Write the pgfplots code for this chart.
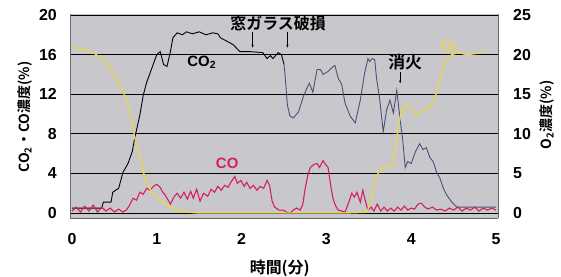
\documentclass[border=0pt]{standalone}
\usepackage{pgfplots}
\pgfplotsset{compat=1.18}
\usetikzlibrary{arrows.meta}
\usepackage{fontspec}
\setmainfont{Liberation Sans}
\newfontfamily\jp{Noto Sans CJK JP Bold}
\definecolor{bggray}{RGB}{200,200,204}
\definecolor{co2blue}{RGB}{78,78,120}
\definecolor{o2yellow}{RGB}{232,214,80}
\definecolor{cored}{RGB}{214,30,92}
\begin{document}
\begin{tikzpicture}
\begin{axis}[
  at={(0,0)}, anchor=south west,
  scale only axis, width=428bp, height=204bp,
  xmin=-0.024, xmax=5.024, ymin=-0.5, ymax=20.1,
  xtick={0,1,2,3,4,5}, ytick={0,4,8,12,16,20},
  major tick length=0pt,
  axis background/.style={fill=bggray},
  axis line style={black!60, line width=0.5pt},
  axis y line*=left, axis x line*=bottom,
  ymajorgrids, grid style={black, line width=0.9pt},
  /pgf/number format/assume math mode=true,
  ticklabel style={font=\fontsize{16}{16}\selectfont\bfseries},
  xticklabel style={anchor=center, yshift=-21bp},
  yticklabel style={anchor=east, inner sep=0pt, xshift=-13bp},
  clip=false,
]
% CO2 (first part, black)
\addplot[black, line width=0.9pt] coordinates {
(0,0.5)(0.35,0.5)(0.37,1.1)(0.46,1.1)(0.48,2.1)(0.55,2.5)(0.6,4.1)(0.66,5.0)(0.71,6.2)(0.74,7.6)(0.80,9.9)(0.84,11.9)(0.88,13.2)(0.94,14.6)(1.0,16.0)(1.04,16.3)(1.08,15.0)(1.12,14.8)(1.16,16.3)(1.19,17.7)(1.24,18.2)(1.3,18.0)(1.35,18.3)(1.42,18.1)(1.5,18.3)(1.58,18.0)(1.66,18.2)(1.72,18.1)(1.75,17.7)(1.86,17.2)(1.9,17.0)(1.98,16.3)(2.1,16.3)(2.25,16.2)(2.3,15.6)(2.34,15.9)(2.37,15.6)(2.43,16.2)(2.47,16.0)(2.5,15.0)
};
% CO2 (second part, slate)
\addplot[co2blue, line width=0.9pt] coordinates {
(2.5,15.0)(2.51,14.2)(2.54,10.9)(2.57,9.8)(2.61,9.6)(2.67,10.2)(2.73,11.8)(2.77,12.6)(2.8,13.1)(2.84,12.2)(2.89,14.5)(2.93,14.5)(2.96,14.0)(3.02,14.3)(3.08,14.8)(3.1,14.9)(3.14,13.6)(3.18,13.0)(3.22,11.1)(3.28,9.8)(3.34,9.1)(3.40,11.4)(3.45,14.1)(3.49,15.6)(3.51,15.3)(3.54,15.6)(3.57,15.5)(3.59,13.7)(3.63,11.4)(3.67,8.2)(3.71,10.4)(3.75,11.4)(3.79,10.1)(3.83,12.4)(3.87,9.4)(3.90,7.4)(3.93,4.6)(3.96,5.2)(4.0,5.0)(4.05,6.2)(4.1,7.0)(4.14,6.4)(4.18,6.6)(4.22,5.6)(4.26,5.2)(4.3,4.1)(4.34,3.5)(4.38,2.5)(4.42,1.8)(4.48,1.1)(4.54,0.6)(5.0,0.6)
};
% CO
\addplot[cored, line width=1.1pt] coordinates {
(0,0.2)(0.05,0.6)(0.1,0.1)(0.15,0.7)(0.2,0.2)(0.25,0.8)(0.3,0.1)(0.35,0.6)(0.4,0.2)(0.45,0.5)(0.5,0.1)(0.55,0.4)(0.6,0.1)(0.64,0.3)(0.68,0.8)(0.72,1.5)(0.76,1.3)(0.8,2.1)(0.84,1.9)(0.88,2.5)(0.92,2.3)(0.96,2.7)(1.0,2.9)(1.04,2.6)(1.07,2.1)(1.1,1.8)(1.16,0.9)(1.2,1.6)(1.24,2.0)(1.28,1.5)(1.32,2.1)(1.36,1.4)(1.4,2.2)(1.43,1.5)(1.47,2.4)(1.51,1.2)(1.55,2.0)(1.6,1.7)(1.64,2.4)(1.68,2.1)(1.72,2.7)(1.76,2.3)(1.8,2.8)(1.84,2.6)(1.88,3.2)(1.92,3.7)(1.95,3.0)(1.99,3.3)(2.03,2.7)(2.06,3.1)(2.1,2.5)(2.14,2.8)(2.18,2.3)(2.22,2.7)(2.26,2.5)(2.3,3.3)(2.33,2.8)(2.36,1.2)(2.39,0.6)(2.44,0.3)(2.49,0.3)(2.53,0.1)(2.57,0.0)(2.61,0.3)(2.65,0.5)(2.69,0.3)(2.72,0.8)(2.75,2.5)(2.78,3.8)(2.81,4.6)(2.85,4.9)(2.89,5.0)(2.92,4.6)(2.96,5.3)(2.99,4.9)(3.02,4.6)(3.05,2.8)(3.08,1.4)(3.11,0.7)(3.14,0.3)(3.18,0.2)(3.22,0.1)(3.26,1.0)(3.3,2.0)(3.33,1.6)(3.36,2.1)(3.4,1.1)(3.43,2.3)(3.46,1.2)(3.49,0.3)(3.53,0.6)(3.56,0.2)(3.6,0.9)(3.64,0.2)(3.68,0.6)(3.72,0.2)(3.76,0.5)(3.8,0.2)(3.84,0.6)(3.88,0.3)(3.92,0.7)(3.96,0.3)(4.0,0.5)(4.04,0.4)(4.08,0.9)(4.12,1.0)(4.16,0.6)(4.2,0.4)(4.25,0.6)(4.3,0.3)(4.35,0.4)(4.4,0.2)(4.45,0.5)(4.5,0.3)(4.55,0.6)(4.6,0.2)(4.65,0.5)(4.7,0.3)(4.75,0.6)(4.8,0.2)(4.85,0.5)(4.9,0.3)(4.95,0.5)(5.0,0.3)
};
% labels and annotations
\node[font=\fontsize{15}{15}\selectfont\bfseries] at (axis cs:1.53,15.25) {CO\textsubscript{2}};
\node[font=\fontsize{15}{15}\selectfont\bfseries, text=cored] at (axis cs:1.83,5.05) {CO};
\node[font=\jp\fontsize{16}{16}\selectfont] at (axis cs:2.43,19.1) {窓ガラス破損};
\draw[-{Stealth[length=3pt]}, line width=0.6pt] (axis cs:2.13,18.3) -- (axis cs:2.13,16.7);
\draw[-{Stealth[length=3pt]}, line width=0.6pt] (axis cs:2.54,18.3) -- (axis cs:2.54,16.7);
\node[font=\jp\fontsize{17}{17}\selectfont] at (axis cs:3.93,15.2) {消火};
\draw[-{Stealth[length=3pt]}, line width=0.6pt] (axis cs:3.87,14.2) -- (axis cs:3.87,13.1);
\node[font=\jp\fontsize{14}{14}\selectfont, rotate=90] at (axis cs:-0.555,9.7) {CO\textsubscript{2}・CO濃度(\%)};
\node[font=\jp\fontsize{16}{16}\selectfont] at (axis cs:2.45,-5.6) {時間(分)};
\end{axis}
\begin{axis}[
  at={(0,0)}, anchor=south west,
  scale only axis, width=428bp, height=204bp,
  xmin=-0.024, xmax=5.024, ymin=-0.625, ymax=25.125,
  axis x line=none, axis y line*=right,
  ytick={0,5,10,15,20,25},
  major tick length=0pt,
  axis line style={black!60, line width=0.5pt},
  /pgf/number format/assume math mode=true,
  ticklabel style={font=\fontsize{16}{16}\selectfont\bfseries},
  yticklabel style={anchor=west, inner sep=0pt, xshift=15bp},
  clip=false,
]
\addplot[o2yellow, line width=1.4pt] coordinates {
(0,21.0)(0.25,20.25)(0.37,19.4)(0.48,17.75)(0.59,15.75)(0.65,14.0)(0.71,11.5)(0.74,9.5)(0.80,7.0)(0.86,4.4)(0.94,2.6)(1.04,1.6)(1.16,0.75)(1.31,0.15)(1.5,0)(3.2,0)(3.48,0.1)(3.52,1.5)(3.57,4.0)(3.63,5.5)(3.71,6.0)(3.77,5.8)(3.81,8.0)(3.85,11.0)(3.89,13.2)(3.95,13.6)(4.0,13.0)(4.07,12.4)(4.14,13.0)(4.22,13.4)(4.28,14.5)(4.34,17.0)(4.38,18.4)(4.42,19.4)(4.48,20.0)(4.55,20.25)(4.66,20.0)(4.85,20.25)
};
\node[font=\fontsize{15}{15}\selectfont\bfseries, text=o2yellow] at (axis cs:4.46,20.9) {O\textsubscript{2}};
\node[font=\jp\fontsize{14}{14}\selectfont, rotate=90] at (axis cs:5.60,12.4) {O\textsubscript{2}濃度(\%)};
\end{axis}
\pgfresetboundingbox
\path[use as bounding box] (-70bp,-59bp) rectangle (491bp,218bp);
\end{tikzpicture}
\end{document}
